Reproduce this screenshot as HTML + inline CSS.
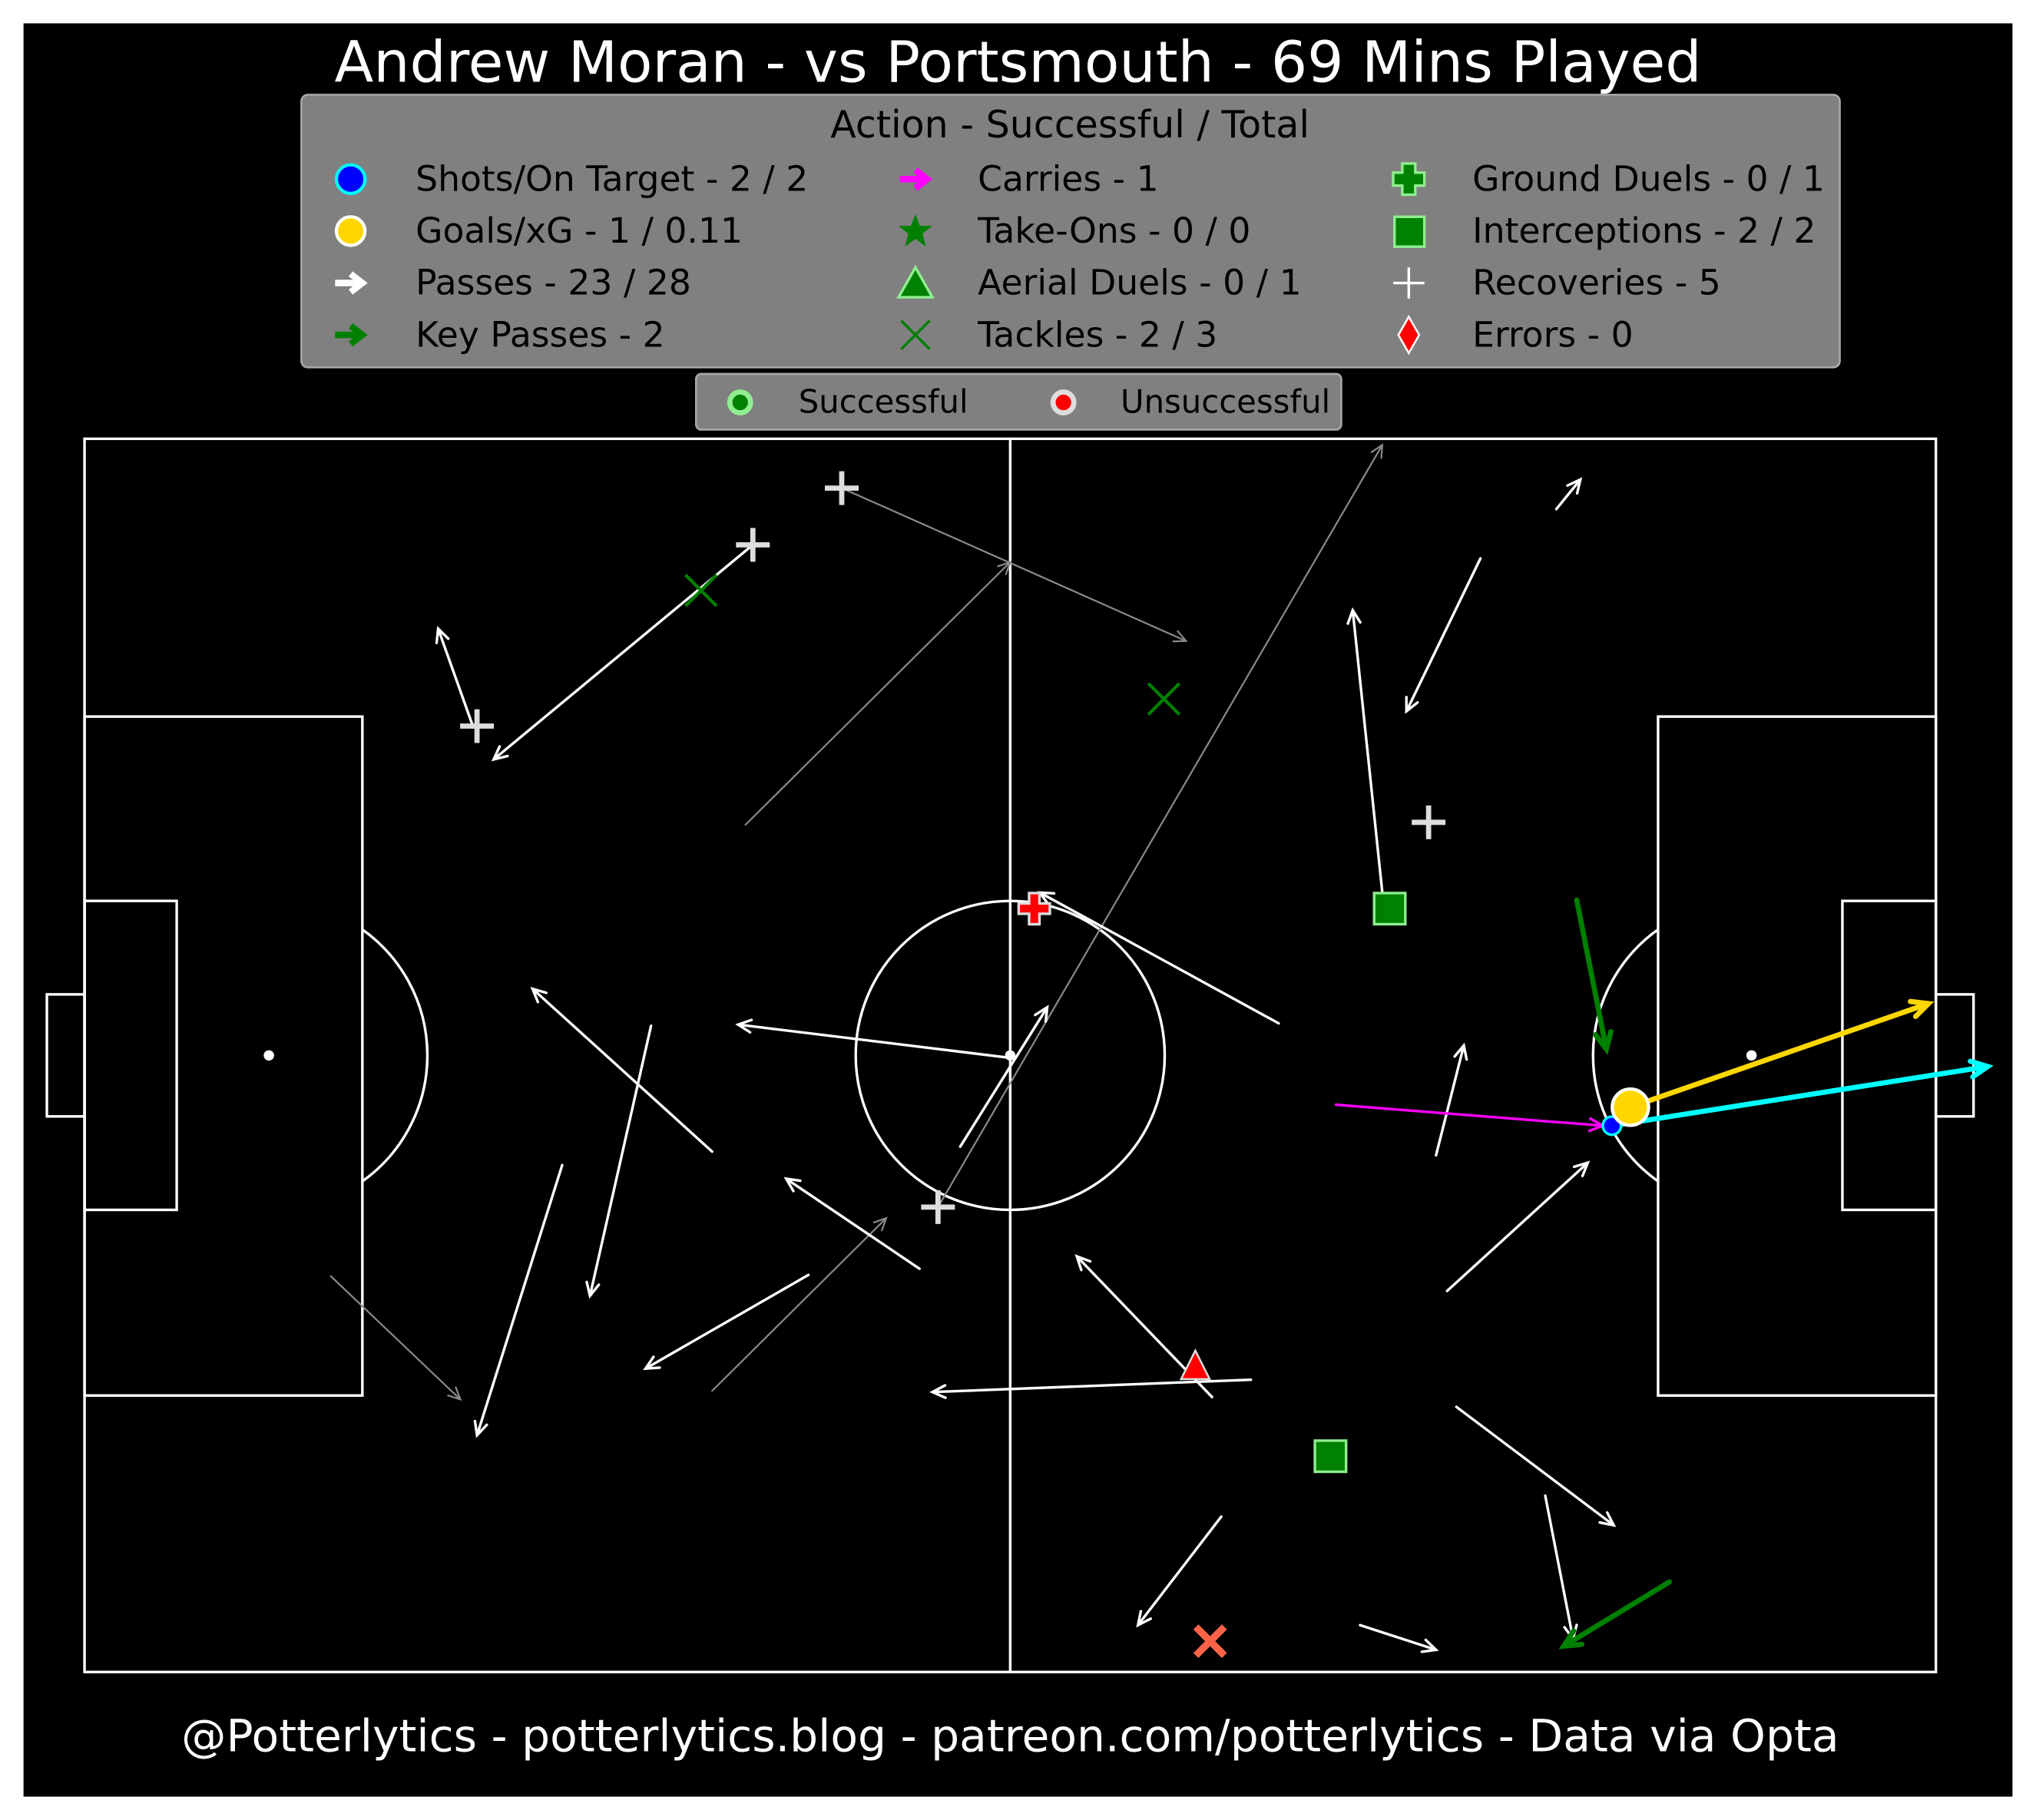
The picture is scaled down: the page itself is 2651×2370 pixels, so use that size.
<!DOCTYPE html>
<html><head><meta charset="utf-8"><style>
html,body{margin:0;padding:0;background:#fff;}
svg{display:block;font-family:"DejaVu Sans","Liberation Sans",sans-serif;}
</style></head><body>
<svg id="fig" width="2651" height="2370" viewBox="0 0 1568 1402" xmlns="http://www.w3.org/2000/svg">
<rect x="0" y="0" width="1568" height="1402" fill="#fff"/>
<rect x="18" y="18" width="1532" height="1366" fill="#000"/>
<text x="784" y="63" font-size="44" fill="#fff" text-anchor="middle">Andrew Moran - vs Portsmouth - 69 Mins Played</text>

<g>
<rect x="232" y="73" width="1185" height="210" rx="5" fill="#808080" stroke="#aaa" stroke-width="1.5"/>
<text x="824" y="106" font-size="29" fill="#000" text-anchor="middle">Action - Successful / Total</text>
<g font-size="27" fill="#000">
<circle cx="270" cy="138" r="11" fill="#00f" stroke="#0ff" stroke-width="2.5"/>
<text x="320" y="147">Shots/On Target - 2 / 2</text>
<circle cx="270" cy="178" r="11" fill="#FFD700" stroke="#fff" stroke-width="2.5"/>
<text x="320" y="187">Goals/xG - 1 / 0.11</text>
<path d="M258 218 H276 M270 211 L279 218 L270 225" stroke="#fff" stroke-width="5" fill="none"/>
<text x="320" y="227">Passes - 23 / 28</text>
<path d="M258 258 H276 M270 251 L279 258 L270 265" stroke="#008000" stroke-width="5" fill="none"/>
<text x="320" y="267">Key Passes - 2</text>

<path d="M693 138 H711 M705 131 L714 138 L705 145" stroke="#f0f" stroke-width="5" fill="none"/>
<text x="753" y="147">Carries - 1</text>
<polygon points="705,165 708.5,174 718,174 710.5,180 713,190 705,184 697,190 699.5,180 692,174 701.5,174" fill="#008000"/>
<text x="753" y="187">Take-Ons - 0 / 0</text>
<polygon points="705,206 718,229 692,229" fill="#008000" stroke="#90ee90" stroke-width="2"/>
<text x="753" y="227">Aerial Duels - 0 / 1</text>
<path d="M694 247 L716 269 M716 247 L694 269" stroke="#008000" stroke-width="2"/>
<text x="753" y="267">Tackles - 2 / 3</text>

<path d="M1080 126 h10 v7 h7 v10 h-7 v7 h-10 v-7 h-7 v-10 h7 z" fill="#008000" stroke="#90ee90" stroke-width="2"/>
<text x="1134" y="147">Ground Duels - 0 / 1</text>
<rect x="1074" y="167" width="23" height="23" fill="#008000" stroke="#90ee90" stroke-width="2"/>
<text x="1134" y="187">Interceptions - 2 / 2</text>
<path d="M1085 206 V230 M1073 218 H1097" stroke="#fff" stroke-width="2"/>
<text x="1134" y="227">Recoveries - 5</text>
<polygon points="1085,244 1093,258 1085,272 1077,258" fill="#f00" stroke="#fff" stroke-width="1.5"/>
<text x="1134" y="267">Errors - 0</text>
</g>
</g>

<g>
<rect x="536" y="288" width="497" height="43" rx="4" fill="#808080" stroke="#aaa" stroke-width="1.5"/>
<circle cx="570" cy="310" r="8" fill="#008000" stroke="#90ee90" stroke-width="4"/>
<text x="615" y="318" font-size="24.7" fill="#000">Successful</text>
<circle cx="819" cy="310" r="8" fill="#f00" stroke="#ddd" stroke-width="4"/>
<text x="863" y="318" font-size="24.7" fill="#000">Unsuccessful</text>
</g>

<g fill="none" stroke="#fff" stroke-width="2">
<rect x="65" y="338" width="1426" height="950"/>
<line x1="778" y1="338" x2="778" y2="1288"/>
<circle cx="778" cy="813" r="119"/>
<rect x="65" y="552" width="214" height="523"/>
<rect x="65" y="694" width="71" height="238"/>
<rect x="36" y="766" width="29" height="94"/>
<path d="M279 716 A119 119 0 0 1 279 910"/>
<rect x="1277" y="552" width="214" height="523"/>
<rect x="1419" y="694" width="72" height="238"/>
<rect x="1491" y="766" width="29" height="94"/>
<path d="M1277 716 A119 119 0 0 0 1277 910"/>
</g>
<circle cx="778" cy="813" r="4" fill="#fff"/>
<circle cx="207" cy="813" r="4" fill="#fff"/>
<circle cx="1349" cy="813" r="4" fill="#fff"/>

<g id="marks"></g>
<text x="778" y="1349" font-size="34.5" fill="#fff" text-anchor="middle">@Potterlytics - potterlytics.blog - patreon.com/potterlytics - Data via Opta</text>
</svg>
<script>
// Opta coordinates (0-100), y measured upward
const passStartX = [36.1,21.0,33.9,30.6,25.8,50.0,47.3,45.1,39.1,64.5,63.0,60.9,70.1,75.4,79.5,73.0,73.6,74.1,78.9,61.4,68.9];
const passStartY = [91.4,76.6,42.2,52.4,41.1,49.8,42.6,32.7,32.2,52.6,23.7,22.3,63.2,90.3,94.3,41.9,30.9,21.5,14.3,12.6,3.8];
const passEndX   = [22.1,19.1,24.2,27.3,21.2,35.3,52.0,37.9,30.3,51.6,45.8,53.6,68.5,71.4,80.8,74.5,81.2,82.6,80.4,56.9,73.0];
const passEndY   = [74.0,84.6,55.4,30.5,19.2,52.5,53.9,40.0,24.6,63.2,22.7,33.7,86.1,77.9,96.7,50.8,41.3,11.9,2.7,3.8,1.8];
const failStartX = [35.7,40.9,13.3,33.9,46.1];
const failStartY = [68.7,96.0,32.1,22.8,37.7];
const failEndX   = [50.0,59.5,20.3,43.3,70.1];
const failEndY   = [90.0,83.6,22.1,36.8,99.5];
const keyStartX = [80.6,85.6], keyStartY = [62.6,7.3], keyEndX = [82.2,79.9], keyEndY = [50.5,2.1];
const carryStartX = [67.6], carryStartY = [46.0], carryEndX = [82.0], carryEndY = [44.3];
const shotStartX = [82.5], shotStartY = [44.3], shotEndX = [102.8], shotEndY = [49.1];
const goalStartX = [83.5], goalStartY = [45.8], goalEndX = [99.6], goalEndY = [54.2];
const recovX = [40.9,36.1,21.2,72.6,46.1], recovY = [96.0,91.4,76.7,68.9,37.7];
const tackleOkX = [33.3,58.3], tackleOkY = [87.7,78.9];
const tackleFailX = [60.8], tackleFailY = [2.5];
const interX = [70.5,67.3], interY = [61.9,17.5];
const groundFailX = [51.3], groundFailY = [61.9];
const aerialFailX = [60.0], aerialFailY = [24.7];

const NS = "http://www.w3.org/2000/svg";
const g = document.getElementById('marks');
function sx(v){ return 65 + v*14.26; }
function sy(v){ return 1288 - v*9.5; }
function mk(tag, attrs){ const e=document.createElementNS(NS,tag); for(const k in attrs) e.setAttribute(k,attrs[k]); g.appendChild(e); return e; }

function arrows(x1s,y1s,x2s,y2s,color,w,head,name){
  for(let i=0;i<x1s.length;i++){
    const a=sx(x1s[i]), b=sy(y1s[i]), c=sx(x2s[i]), d=sy(y2s[i]);
    const ang=Math.atan2(d-b,c-a), s=0.45;
    const p1=[c-head*Math.cos(ang-s), d-head*Math.sin(ang-s)];
    const p2=[c-head*Math.cos(ang+s), d-head*Math.sin(ang+s)];
    const e=mk('path',{d:`M${a} ${b} L${c} ${d} M${p1[0]} ${p1[1]} L${c} ${d} L${p2[0]} ${p2[1]}`,stroke:color,'stroke-width':w,fill:'none','stroke-linecap':'round'});
    
    
  }
}
arrows(failStartX,failStartY,failEndX,failEndY,'#8a8a8a',1.3,10,'unsuccessful-pass');
arrows(passStartX,passStartY,passEndX,passEndY,'#fff',2,11,'successful-pass');
arrows(keyStartX,keyStartY,keyEndX,keyEndY,'#008000',4,14,'key-pass');
arrows(carryStartX,carryStartY,carryEndX,carryEndY,'#f0f',2,11,'carry');
arrows(shotStartX,shotStartY,shotEndX,shotEndY,'#0ff',4,14,'shot-arrow');
arrows(goalStartX,goalStartY,goalEndX,goalEndY,'#FFD700',4,14,'goal-arrow');

for(let i=0;i<recovX.length;i++){
  const x=sx(recovX[i]), y=sy(recovY[i]);
  const e=mk('path',{d:`M${x} ${y-13} V${y+13} M${x-13} ${y} H${x+13}`,stroke:'#ddd','stroke-width':4});
  
  
}
for(let i=0;i<tackleOkX.length;i++){
  const x=sx(tackleOkX[i]), y=sy(tackleOkY[i]);
  const e=mk('path',{d:`M${x-12} ${y-12} L${x+12} ${y+12} M${x+12} ${y-12} L${x-12} ${y+12}`,stroke:'#008000','stroke-width':2.5});
  
  
}
for(let i=0;i<tackleFailX.length;i++){
  const x=sx(tackleFailX[i]), y=sy(tackleFailY[i]);
  const e=mk('path',{d:`M${x-11} ${y-11} L${x+11} ${y+11} M${x+11} ${y-11} L${x-11} ${y+11}`,stroke:'#ff6347','stroke-width':5.5});
  
  
}
for(let i=0;i<interX.length;i++){
  const x=sx(interX[i]), y=sy(interY[i]);
  const e=mk('rect',{x:x-12,y:y-12,width:24,height:24,fill:'#008000',stroke:'#90ee90','stroke-width':2});
  
  
}
for(let i=0;i<groundFailX.length;i++){
  const x=sx(groundFailX[i]), y=sy(groundFailY[i]);
  const e=mk('path',{d:`M${x-4} ${y-12} h8 v8 h8 v8 h-8 v8 h-8 v-8 h-8 v-8 h8 z`,fill:'#f00',stroke:'#ddd','stroke-width':2});
  
  
}
for(let i=0;i<aerialFailX.length;i++){
  const x=sx(aerialFailX[i]), y=sy(aerialFailY[i]);
  const e=mk('polygon',{points:`${x},${y-13} ${x+11},${y+9} ${x-11},${y+9}`,fill:'#f00',stroke:'#ddd','stroke-width':1.5});
  
  
}
for(let i=0;i<shotStartX.length;i++){
  const e=mk('circle',{cx:sx(shotStartX[i]),cy:sy(shotStartY[i]),r:7,fill:'#00f',stroke:'#0ff','stroke-width':2});
  
  
}
for(let i=0;i<goalStartX.length;i++){
  const e=mk('circle',{cx:sx(goalStartX[i]),cy:sy(goalStartY[i]),r:14,fill:'#FFD700',stroke:'#fff','stroke-width':2.5});
  
  
}
</script>
</body></html>
